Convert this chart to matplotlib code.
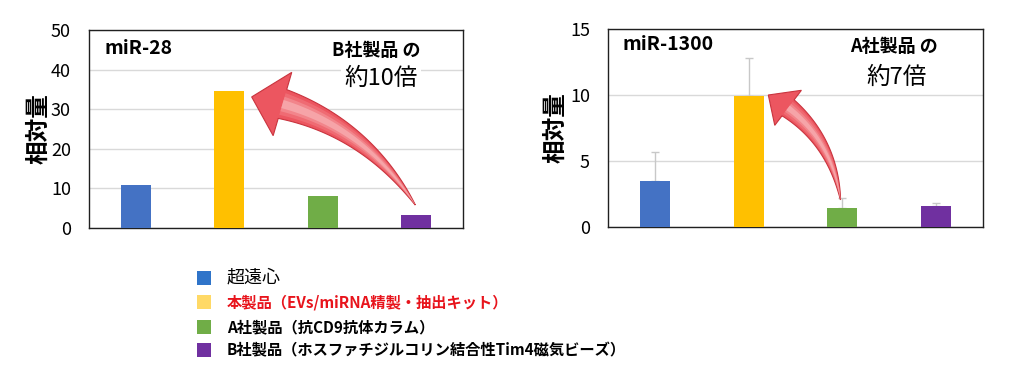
import numpy as np
import matplotlib.pyplot as plt
from matplotlib.patches import Polygon, Rectangle
from matplotlib.transforms import IdentityTransform

plt.rcParams['font.family'] = ['Noto Sans CJK JP', 'DejaVu Sans']

# データ
methods = ['超遠心', '本製品（EVs/miRNA精製・抽出キット）',
           'A社製品（抗CD9抗体カラム）', 'B社製品（ホスファチジルコリン結合性Tim4磁気ビーズ）']
mir28 = [10.8, 34.7, 8.2, 3.3]
mir1300 = [3.5, 9.9, 1.45, 1.6]
mir1300_err = [2.2, 2.9, 0.75, 0.2]

bar_colors = ['#4472c4', '#ffc000', '#70ad47', '#7030a0']
legend_colors = ['#2f74c9', '#ffd966', '#70ad47', '#7030a0']

W, H = 1024, 370
fig = plt.figure(figsize=(W / 100, H / 100), dpi=100)


def px_axes(x0, y0, x1, y1):
    return fig.add_axes([x0 / W, 1 - y1 / H, (x1 - x0) / W, (y1 - y0) / H])


def setup(ax, values, ymax, step, err=None):
    x = range(len(values))
    if err is not None:
        ax.bar(x, values, width=0.32, color=bar_colors, zorder=3,
               yerr=[[0] * len(err), err], ecolor='#c8c8c8',
               error_kw=dict(elinewidth=1, capsize=3, capthick=1, zorder=2))
    else:
        ax.bar(x, values, width=0.32, color=bar_colors, zorder=3)
    ax.set_xlim(-0.5, len(values) - 0.5)
    ax.set_ylim(0, ymax)
    ax.set_yticks(range(0, ymax + 1, step))
    ax.set_xticks([])
    ax.tick_params(axis='y', length=0, labelsize=13, pad=13)
    ax.grid(axis='y', color='#d9d9d9', linewidth=1, zorder=0)
    for s in ax.spines.values():
        s.set_color('#202020')
        s.set_linewidth(1)
    ax.set_ylabel('相対量', fontsize=17, fontweight='bold')


def fig_text(px, py, s, **kw):
    fig.text(px / W, 1 - py / H, s, **kw)


def arrow(ax, tail, head, rad, body_w, head_w, head_len):
    # 曲がった矢印（ピクセル座標で多角形を作る）
    p0 = ax.transData.transform(tail)
    p2 = ax.transData.transform(head)
    d = p2 - p0
    p1 = (p0 + p2) / 2 + rad * np.array([d[1], -d[0]])
    t = np.linspace(0, 1, 200)
    pts = ((1 - t) ** 2)[:, None] * p0 + (2 * (1 - t) * t)[:, None] * p1 + (t ** 2)[:, None] * p2
    seg = np.r_[0, np.cumsum(np.hypot(*np.diff(pts, axis=0).T))]
    neck = np.searchsorted(seg, seg[-1] - head_len)
    tang = np.gradient(pts, axis=0)
    tang /= np.hypot(tang[:, 0], tang[:, 1])[:, None]
    nrm = np.c_[-tang[:, 1], tang[:, 0]]
    bp = pts[:neck + 1]
    frac = seg[:neck + 1] / seg[neck]
    layers = [(1.0, '#ec5660', '#c9343e', 1.0),
              (0.75, '#f27a80', 'none', 0.6),
              (0.5, '#f6a0a3', 'none', 0.5),
              (0.28, '#fac4c5', 'none', 0.5)]
    for scale, fc, ec, a in layers:
        hw = body_w / 2 * scale * frac ** 0.9
        left = bp + nrm[:neck + 1] * hw[:, None]
        right = bp - nrm[:neck + 1] * hw[:, None]
        if scale == 1.0:
            hl = pts[neck] + nrm[neck] * head_w / 2
            hr = pts[neck] - nrm[neck] * head_w / 2
            poly = np.vstack([left, hl, pts[-1], hr, right[::-1]])
        else:
            poly = np.vstack([left, right[::-1]])
        fig.patches.append(Polygon(poly, closed=True, transform=IdentityTransform(),
                                   facecolor=fc, edgecolor=ec, linewidth=0.8,
                                   alpha=a, zorder=5))


# miR-28
ax1 = px_axes(89, 30, 463, 228)
setup(ax1, mir28, 50, 10)
ax1.yaxis.set_label_coords(-0.104, 0.5)
fig_text(105, 48, 'miR-28', fontsize=14, fontweight='bold', va='center')
fig_text(376, 50, 'B社製品 の', fontsize=13, fontweight='bold', va='center', ha='center')
fig_text(381, 78, '約10倍', fontsize=17, va='center', ha='center',
         bbox=dict(facecolor='white', edgecolor='none', pad=2))
arrow(ax1, (2.99, 5.8), (1.24, 33.1), 0.22, 30, 66, 32)

# miR-1300
ax2 = px_axes(608, 29, 983, 227)
setup(ax2, mir1300, 15, 5, err=mir1300_err)
ax2.yaxis.set_label_coords(-0.109, 0.5)
fig_text(622, 45, 'miR-1300', fontsize=14, fontweight='bold', va='center')
fig_text(894, 47, 'A社製品 の', fontsize=13, fontweight='bold', va='center', ha='center')
fig_text(897, 77, '約7倍', fontsize=17, va='center', ha='center',
         bbox=dict(facecolor='white', edgecolor='none', pad=2))
arrow(ax2, (1.98, 2.05), (1.21, 10.0), 0.25, 20, 44, 24)

# 凡例
rows_y = [278, 302, 327, 350]
for i, (m, c, y) in enumerate(zip(methods, legend_colors, rows_y)):
    fig.patches.append(Rectangle(((204 - 7) / W, 1 - (y + 7) / H), 14 / W, 14 / H,
                                 transform=fig.transFigure, facecolor=c, edgecolor='none'))
    color = '#e8141c' if i == 1 else 'black'
    weight = 'normal' if i == 0 else 'bold'
    size = 13 if i == 0 else 11
    fig_text(227, y, m, fontsize=size, fontweight=weight, color=color, va='center')

fig.savefig('out.png', dpi=100, facecolor='white')
